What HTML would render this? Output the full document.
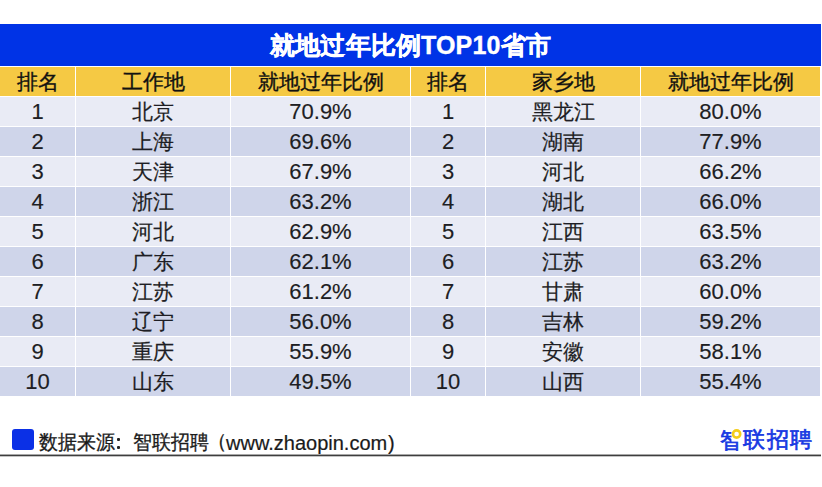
<!DOCTYPE html><html><head><meta charset="utf-8"><style>
*{margin:0;padding:0;box-sizing:border-box}
html,body{width:822px;height:487px;background:#fff;overflow:hidden;position:relative;font-family:"Liberation Sans",sans-serif}
.n{font-size:22px!important;font-weight:400!important;-webkit-text-stroke:0.15px #111!important}
.c{position:absolute;display:flex;align-items:center;justify-content:center;color:#1e1e24;font-size:21px;white-space:nowrap;font-weight:500;-webkit-text-stroke:0.2px #1e1e24}
.h{-webkit-text-stroke:0.35px #111;color:#111}
.t{position:absolute;left:0;top:24px;width:821px;height:42px;background:#0033e6;color:#fff;font-weight:bold;font-size:25px;-webkit-text-stroke:0.4px #fff;letter-spacing:0.15px;display:flex;align-items:center;justify-content:center}
.h{background:#f5c944}
.l{background:#e9ebf5}
.d{background:#cfd5ea}
.line{position:absolute;left:0;top:454px;width:821px;height:3px;background:linear-gradient(#a8a8a8 0,#a8a8a8 1px,#3e3e3e 1px,#3e3e3e 2px,#c4c4c4 2px,#c4c4c4 3px)}
.sq{position:absolute;left:12px;top:429px;width:22px;height:21px;background:#0b30e6;border-radius:3px}
.src{position:absolute;top:429px;font-size:20px;letter-spacing:-1px;color:#1a1a1a;white-space:nowrap;line-height:26px;font-weight:500;-webkit-text-stroke:0.3px #1a1a1a}
.cj{font-size:19px;letter-spacing:0;transform:scaleY(1.06);transform-origin:0 0;top:429px}
.lat{font-weight:400;letter-spacing:0;top:430px;-webkit-text-stroke:0.2px #1a1a1a}
.colon{position:absolute;width:3px;height:3px;background:#222;border-radius:1px}
.logo{position:absolute;left:720px;top:426px;font-size:22px;color:#1638e2;font-weight:normal;white-space:nowrap;line-height:26px;letter-spacing:1px;-webkit-text-stroke:0.7px #1638e2}
</style></head><body>
<div class="t">就地过年比例TOP10省市</div>
<div class="c h" style="left:0px;top:67px;width:75px;height:29px">排名</div>
<div class="c h" style="left:76px;top:67px;width:154px;height:29px">工作地</div>
<div class="c h" style="left:231px;top:67px;width:179px;height:29px">就地过年比例</div>
<div class="c h" style="left:411px;top:67px;width:74px;height:29px">排名</div>
<div class="c h" style="left:486px;top:67px;width:154px;height:29px">家乡地</div>
<div class="c h" style="left:641px;top:67px;width:179px;height:29px">就地过年比例</div>
<div class="c l n" style="left:0px;top:97px;width:75px;height:29px">1</div>
<div class="c l" style="left:76px;top:97px;width:154px;height:29px">北京</div>
<div class="c l n" style="left:231px;top:97px;width:179px;height:29px">70.9%</div>
<div class="c l n" style="left:411px;top:97px;width:74px;height:29px">1</div>
<div class="c l" style="left:486px;top:97px;width:154px;height:29px">黑龙江</div>
<div class="c l n" style="left:641px;top:97px;width:179px;height:29px">80.0%</div>
<div class="c d n" style="left:0px;top:127px;width:75px;height:29px">2</div>
<div class="c d" style="left:76px;top:127px;width:154px;height:29px">上海</div>
<div class="c d n" style="left:231px;top:127px;width:179px;height:29px">69.6%</div>
<div class="c d n" style="left:411px;top:127px;width:74px;height:29px">2</div>
<div class="c d" style="left:486px;top:127px;width:154px;height:29px">湖南</div>
<div class="c d n" style="left:641px;top:127px;width:179px;height:29px">77.9%</div>
<div class="c l n" style="left:0px;top:157px;width:75px;height:29px">3</div>
<div class="c l" style="left:76px;top:157px;width:154px;height:29px">天津</div>
<div class="c l n" style="left:231px;top:157px;width:179px;height:29px">67.9%</div>
<div class="c l n" style="left:411px;top:157px;width:74px;height:29px">3</div>
<div class="c l" style="left:486px;top:157px;width:154px;height:29px">河北</div>
<div class="c l n" style="left:641px;top:157px;width:179px;height:29px">66.2%</div>
<div class="c d n" style="left:0px;top:187px;width:75px;height:29px">4</div>
<div class="c d" style="left:76px;top:187px;width:154px;height:29px">浙江</div>
<div class="c d n" style="left:231px;top:187px;width:179px;height:29px">63.2%</div>
<div class="c d n" style="left:411px;top:187px;width:74px;height:29px">4</div>
<div class="c d" style="left:486px;top:187px;width:154px;height:29px">湖北</div>
<div class="c d n" style="left:641px;top:187px;width:179px;height:29px">66.0%</div>
<div class="c l n" style="left:0px;top:217px;width:75px;height:29px">5</div>
<div class="c l" style="left:76px;top:217px;width:154px;height:29px">河北</div>
<div class="c l n" style="left:231px;top:217px;width:179px;height:29px">62.9%</div>
<div class="c l n" style="left:411px;top:217px;width:74px;height:29px">5</div>
<div class="c l" style="left:486px;top:217px;width:154px;height:29px">江西</div>
<div class="c l n" style="left:641px;top:217px;width:179px;height:29px">63.5%</div>
<div class="c d n" style="left:0px;top:247px;width:75px;height:29px">6</div>
<div class="c d" style="left:76px;top:247px;width:154px;height:29px">广东</div>
<div class="c d n" style="left:231px;top:247px;width:179px;height:29px">62.1%</div>
<div class="c d n" style="left:411px;top:247px;width:74px;height:29px">6</div>
<div class="c d" style="left:486px;top:247px;width:154px;height:29px">江苏</div>
<div class="c d n" style="left:641px;top:247px;width:179px;height:29px">63.2%</div>
<div class="c l n" style="left:0px;top:277px;width:75px;height:29px">7</div>
<div class="c l" style="left:76px;top:277px;width:154px;height:29px">江苏</div>
<div class="c l n" style="left:231px;top:277px;width:179px;height:29px">61.2%</div>
<div class="c l n" style="left:411px;top:277px;width:74px;height:29px">7</div>
<div class="c l" style="left:486px;top:277px;width:154px;height:29px">甘肃</div>
<div class="c l n" style="left:641px;top:277px;width:179px;height:29px">60.0%</div>
<div class="c d n" style="left:0px;top:307px;width:75px;height:29px">8</div>
<div class="c d" style="left:76px;top:307px;width:154px;height:29px">辽宁</div>
<div class="c d n" style="left:231px;top:307px;width:179px;height:29px">56.0%</div>
<div class="c d n" style="left:411px;top:307px;width:74px;height:29px">8</div>
<div class="c d" style="left:486px;top:307px;width:154px;height:29px">吉林</div>
<div class="c d n" style="left:641px;top:307px;width:179px;height:29px">59.2%</div>
<div class="c l n" style="left:0px;top:337px;width:75px;height:29px">9</div>
<div class="c l" style="left:76px;top:337px;width:154px;height:29px">重庆</div>
<div class="c l n" style="left:231px;top:337px;width:179px;height:29px">55.9%</div>
<div class="c l n" style="left:411px;top:337px;width:74px;height:29px">9</div>
<div class="c l" style="left:486px;top:337px;width:154px;height:29px">安徽</div>
<div class="c l n" style="left:641px;top:337px;width:179px;height:29px">58.1%</div>
<div class="c d n" style="left:0px;top:367px;width:75px;height:29px">10</div>
<div class="c d" style="left:76px;top:367px;width:154px;height:29px">山东</div>
<div class="c d n" style="left:231px;top:367px;width:179px;height:29px">49.5%</div>
<div class="c d n" style="left:411px;top:367px;width:74px;height:29px">10</div>
<div class="c d" style="left:486px;top:367px;width:154px;height:29px">山西</div>
<div class="c d n" style="left:641px;top:367px;width:179px;height:29px">55.4%</div>
<div class="sq"></div>
<div class="src cj" style="left:39px">数据来源</div>
<div class="colon" style="left:117px;top:438px"></div><div class="colon" style="left:117px;top:446px"></div>
<div class="src cj" style="left:133px">智联招聘</div>
<div class="src" style="left:207px;top:428px">（</div>
<div class="src lat" style="left:226px">www.zhaopin.com</div>
<div class="src lat" style="left:388px">)</div>
<div class="logo" style="left:720px"><svg width="22" height="26" viewBox="0 0 22 26" style="display:block"><text x="0" y="22" font-size="22" fill="#1638e2" stroke="#1638e2" stroke-width="0.7" font-weight="normal">智</text><rect x="11.5" y="1" width="11" height="14.4" fill="#fff"/><circle cx="16.6" cy="8" r="3.6" fill="none" stroke="#f4cd1c" stroke-width="2.6"/></svg></div>
<div class="logo" style="left:743px;top:427px;letter-spacing:1.6px">联招聘</div>
<div class="line"></div>
</body></html>
